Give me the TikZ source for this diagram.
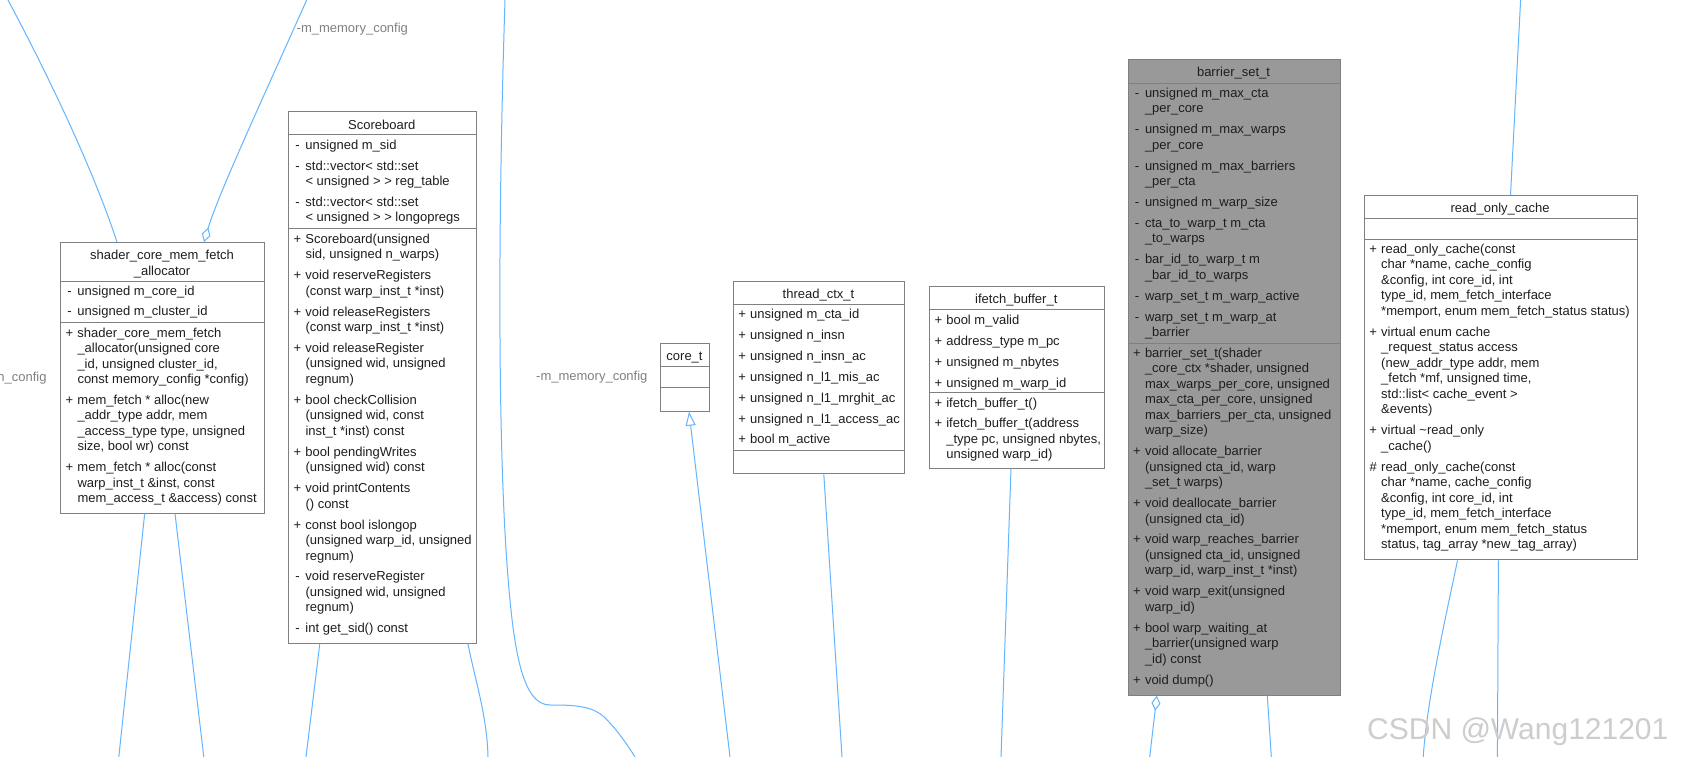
\documentclass[tikz,border=0pt]{standalone}
\usepackage{fontspec}
\setmainfont{Liberation Sans}
\usetikzlibrary{arrows.meta}
\definecolor{linkblue}{RGB}{99,181,255}
\definecolor{boxgray}{RGB}{128,128,128}
\definecolor{txtcol}{RGB}{30,30,30}
\definecolor{lblgray}{RGB}{128,128,128}
\definecolor{barfill}{RGB}{153,153,153}
\definecolor{wmark}{RGB}{205,205,205}
\newcommand\umlfont{\fontsize{13}{15.5}\selectfont}
\newcommand\vis[1]{\makebox[16pt][c]{#1}}
\newcommand\members[1]{\begin{tabular}[t]{@{}l@{}l@{}}#1\end{tabular}}
\newcommand\ctitle[1]{\begin{tabular}[t]{@{}c@{}}#1\end{tabular}}
\tikzset{
  cls/.style={draw=boxgray, line width=1pt, fill=white, inner sep=0pt, anchor=north west},
  txt/.style={inner sep=0pt, anchor=base west, font=\umlfont, text=txtcol},
  ttl/.style={inner sep=0pt, anchor=base, font=\umlfont, text=txtcol},
  sepline/.style={draw=boxgray, line width=1pt},
  conn/.style={draw=linkblue, line width=1pt},
  aggr/.style={-{Diamond[open,length=15pt,width=9pt]}},
  gener/.style={-{Triangle[open,length=14pt,width=10pt]}},
  lbl/.style={inner sep=0pt, font=\umlfont, text=lblgray},
}
\begin{document}
\begin{tikzpicture}[x=1pt,y=-1pt]
\useasboundingbox (0,0) rectangle (1691,757);
\fill[white] (0,0) rectangle (1691,757);

% ---------- class boxes ----------
\node[cls, minimum width=204pt, minimum height=270.5pt] (sh) at (60,242) {};
\node[cls, minimum width=187.5pt, minimum height=531pt] (sb) at (288,111.5) {};
\node[cls, minimum width=49pt, minimum height=68pt] (core) at (660,342.7) {};
\node[cls, minimum width=171.6pt, minimum height=192.3pt] (th) at (732.7,281) {};
\node[cls, minimum width=175pt, minimum height=181.6pt] (if) at (928.8,286) {};
\node[cls, fill=barfill, minimum width=212pt, minimum height=635.3pt] (bs) at (1127.5,59.4) {};
\node[cls, minimum width=272.9pt, minimum height=364.2pt] (ro) at (1363.7,195.2) {};

% ---------- connectors ----------
\coordinate (a1) at (8,0);
\coordinate (a2) at (306.7,0);
\coordinate (a3) at (118.8,757);
\coordinate (a4) at (203.8,757);
\coordinate (a5) at (306,757);
\coordinate (a6) at (488,757);
\coordinate (a7) at (505,0);
\coordinate (a7b) at (635,757);
\coordinate (a8) at (730,757);
\coordinate (a9) at (842,757);
\coordinate (a10) at (1001,757);
\coordinate (a11) at (1149.7,757);
\coordinate (a12) at (1271.3,757);
\coordinate (a13) at (1520.6,0);
\coordinate (a14) at (1423.2,757);
\coordinate (a15) at (1497.4,757);

\draw[conn] (a1) .. controls (40,60) and (90,160) .. ([xshift=57pt]sh.north west);
\draw[conn,aggr] (a2) .. controls (262,100) and (218,195) .. ([xshift=144pt]sh.north west);
\draw[conn] ([xshift=84.7pt]sh.south west) -- (a3);
\draw[conn] ([xshift=115pt]sh.south west) -- (a4);
\draw[conn] ([xshift=31.8pt]sb.south west) -- (a5);
\draw[conn] ([xshift=179.9pt]sb.south west) .. controls (475,680) and (487,715) .. (a6);
\draw[conn] (a7) .. controls (497,250) and (499,450) .. (506.7,560)
  .. controls (513,650) and (522,705) .. (550,705)
  .. controls (570,705) and (590,705) .. (603,716)
  .. controls (615,727) and (627,744) .. (a7b);
\draw[conn,gener] (a8) -- ([xshift=29pt]core.south west);
\draw[conn] ([xshift=91.1pt]th.south west) -- (a9);
\draw[conn] ([xshift=82.2pt]if.south west) -- (a10);
\draw[conn,aggr] (a11) -- ([xshift=29.3pt]bs.south west);
\draw[conn] ([xshift=139.8pt]bs.south west) -- (a12);
\draw[conn] (a13) -- ([xshift=146.8pt]ro.north west);
\draw[conn] ([xshift=93.8pt]ro.south west) .. controls (1445,620) and (1427,700) .. (a14);
\draw[conn] ([xshift=134.7pt]ro.south west) -- (a15);

% ---------- labels ----------
\node[lbl, anchor=base west] (l1) at (296.5,32.8) {-m\_memory\_config};
\node[lbl, anchor=base west] (l2) at (536,380.9) {-m\_memory\_config};
\node[lbl, anchor=base east] (l3) at (46.7,381.2) {n\_config};

% ---------- shader_core_mem_fetch_allocator ----------
\draw[sepline] (60,281) -- (264,281);
\draw[sepline] (60,322) -- (264,322);
\node[ttl] (sh-t) at (162,259.5) {\ctitle{shader\_core\_mem\_fetch\\ \_allocator}};
\node[txt] (sh-a) at (61.3,295) {\members{%
\vis{-}&unsigned m\_core\_id\\[5.4pt]
\vis{-}&unsigned m\_cluster\_id}};
\node[txt] (sh-m) at (61.3,337) {\members{%
\vis{+}&shader\_core\_mem\_fetch\\
&\_allocator(unsigned core\\
&\_id, unsigned cluster\_id,\\
&const memory\_config *config)\\[5.4pt]
\vis{+}&mem\_fetch * alloc(new\\
&\_addr\_type addr, mem\\
&\_access\_type type, unsigned\\
&size, bool wr) const\\[5.4pt]
\vis{+}&mem\_fetch * alloc(const\\
&warp\_inst\_t \&inst, const\\
&mem\_access\_t \&access) const}};

% ---------- Scoreboard ----------
\draw[sepline] (288,135) -- (475.5,135);
\draw[sepline] (288,228.7) -- (475.5,228.7);
\node[ttl] (sb-t) at (381.75,129) {Scoreboard};
\node[txt] (sb-a) at (289.3,149.2) {\members{%
\vis{-}&unsigned m\_sid\\[5.4pt]
\vis{-}&std::vector< std::set\\
&< unsigned > > reg\_table\\[5.4pt]
\vis{-}&std::vector< std::set\\
&< unsigned > > longopregs}};
\node[txt] (sb-m) at (289.3,243.2) {\members{%
\vis{+}&Scoreboard(unsigned\\
&sid, unsigned n\_warps)\\[5.4pt]
\vis{+}&void reserveRegisters\\
&(const warp\_inst\_t *inst)\\[5.4pt]
\vis{+}&void releaseRegisters\\
&(const warp\_inst\_t *inst)\\[5.4pt]
\vis{+}&void releaseRegister\\
&(unsigned wid, unsigned\\
&regnum)\\[5.4pt]
\vis{+}&bool checkCollision\\
&(unsigned wid, const\\
&inst\_t *inst) const\\[5.4pt]
\vis{+}&bool pendingWrites\\
&(unsigned wid) const\\[5.4pt]
\vis{+}&void printContents\\
&() const\\[5.4pt]
\vis{+}&const bool islongop\\
&(unsigned warp\_id, unsigned\\
&regnum)\\[5.4pt]
\vis{-}&void reserveRegister\\
&(unsigned wid, unsigned\\
&regnum)\\[5.4pt]
\vis{-}&int get\_sid() const}};

% ---------- core_t ----------
\draw[sepline] (660,366.7) -- (709,366.7);
\draw[sepline] (660,387.3) -- (709,387.3);
\node[ttl] (core-t) at (684.5,360.5) {core\_t};

% ---------- thread_ctx_t ----------
\draw[sepline] (732.7,304) -- (904.3,304);
\draw[sepline] (732.7,450) -- (904.3,450);
\node[ttl] (th-t) at (818.5,298.5) {thread\_ctx\_t};
\node[txt] (th-a) at (734,318.5) {\members{%
\vis{+}&unsigned m\_cta\_id\\[5.4pt]
\vis{+}&unsigned n\_insn\\[5.4pt]
\vis{+}&unsigned n\_insn\_ac\\[5.4pt]
\vis{+}&unsigned n\_l1\_mis\_ac\\[5.4pt]
\vis{+}&unsigned n\_l1\_mrghit\_ac\\[5.4pt]
\vis{+}&unsigned n\_l1\_access\_ac\\[5.4pt]
\vis{+}&bool m\_active}};

% ---------- ifetch_buffer_t ----------
\draw[sepline] (928.8,309.2) -- (1103.8,309.2);
\draw[sepline] (928.8,392.8) -- (1103.8,392.8);
\node[ttl] (if-t) at (1016.3,303) {ifetch\_buffer\_t};
\node[txt] (if-a) at (930.1,324.3) {\members{%
\vis{+}&bool m\_valid\\[5.4pt]
\vis{+}&address\_type m\_pc\\[5.4pt]
\vis{+}&unsigned m\_nbytes\\[5.4pt]
\vis{+}&unsigned m\_warp\_id}};
\node[txt] (if-m) at (930.1,407) {\members{%
\vis{+}&ifetch\_buffer\_t()\\[5.4pt]
\vis{+}&ifetch\_buffer\_t(address\\
&\_type pc, unsigned nbytes,\\
&unsigned warp\_id)}};

% ---------- barrier_set_t ----------
\draw[sepline] (1127.5,83.1) -- (1339.5,83.1);
\draw[sepline] (1127.5,343.5) -- (1339.5,343.5);
\node[ttl] (bs-t) at (1233.5,77) {barrier\_set\_t};
\node[txt] (bs-a) at (1128.8,97.3) {\members{%
\vis{-}&unsigned m\_max\_cta\\
&\_per\_core\\[5.4pt]
\vis{-}&unsigned m\_max\_warps\\
&\_per\_core\\[5.4pt]
\vis{-}&unsigned m\_max\_barriers\\
&\_per\_cta\\[5.4pt]
\vis{-}&unsigned m\_warp\_size\\[5.4pt]
\vis{-}&cta\_to\_warp\_t m\_cta\\
&\_to\_warps\\[5.4pt]
\vis{-}&bar\_id\_to\_warp\_t m\\
&\_bar\_id\_to\_warps\\[5.4pt]
\vis{-}&warp\_set\_t m\_warp\_active\\[5.4pt]
\vis{-}&warp\_set\_t m\_warp\_at\\
&\_barrier}};
\node[txt] (bs-m) at (1128.8,357.2) {\members{%
\vis{+}&barrier\_set\_t(shader\\
&\_core\_ctx *shader, unsigned\\
&max\_warps\_per\_core, unsigned\\
&max\_cta\_per\_core, unsigned\\
&max\_barriers\_per\_cta, unsigned\\
&warp\_size)\\[5.4pt]
\vis{+}&void allocate\_barrier\\
&(unsigned cta\_id, warp\\
&\_set\_t warps)\\[5.4pt]
\vis{+}&void deallocate\_barrier\\
&(unsigned cta\_id)\\[5.4pt]
\vis{+}&void warp\_reaches\_barrier\\
&(unsigned cta\_id, unsigned\\
&warp\_id, warp\_inst\_t *inst)\\[5.4pt]
\vis{+}&void warp\_exit(unsigned\\
&warp\_id)\\[5.4pt]
\vis{+}&bool warp\_waiting\_at\\
&\_barrier(unsigned warp\\
&\_id) const\\[5.4pt]
\vis{+}&void dump()}};

% ---------- read_only_cache ----------
\draw[sepline] (1363.7,218.4) -- (1636.6,218.4);
\draw[sepline] (1363.7,239.1) -- (1636.6,239.1);
\node[ttl] (ro-t) at (1500.15,212) {read\_only\_cache};
\node[txt] (ro-m) at (1365,253.3) {\members{%
\vis{+}&read\_only\_cache(const\\
&char *name, cache\_config\\
&\&config, int core\_id, int\\
&type\_id, mem\_fetch\_interface\\
&*memport, enum mem\_fetch\_status status)\\[5.4pt]
\vis{+}&virtual enum cache\\
&\_request\_status access\\
&(new\_addr\_type addr, mem\\
&\_fetch *mf, unsigned time,\\
&std::list< cache\_event >\\
&\&events)\\[5.4pt]
\vis{+}&virtual \textasciitilde{}read\_only\\
&\_cache()\\[5.4pt]
\vis{\#}&read\_only\_cache(const\\
&char *name, cache\_config\\
&\&config, int core\_id, int\\
&type\_id, mem\_fetch\_interface\\
&*memport, enum mem\_fetch\_status\\
&status, tag\_array *new\_tag\_array)}};

% ---------- watermark ----------
\node[inner sep=0pt, anchor=base west, text=wmark, font=\fontsize{30}{36}\selectfont] (wm) at (1367,739) {CSDN @Wang121201};
\end{tikzpicture}
\end{document}
